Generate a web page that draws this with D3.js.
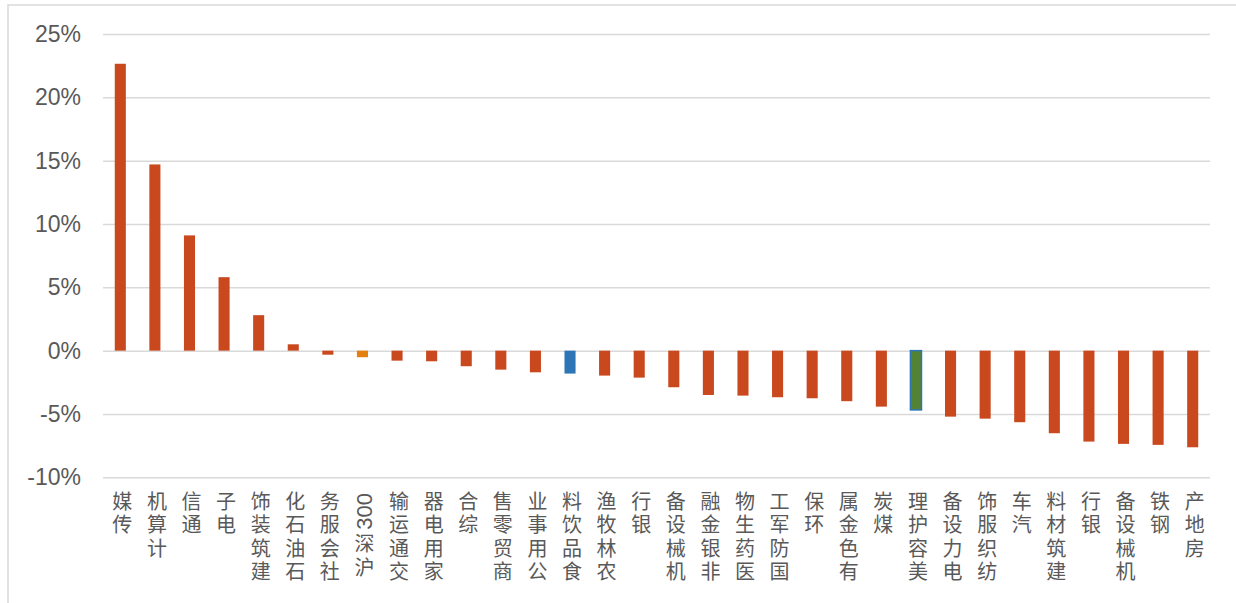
<!DOCTYPE html>
<html>
<head>
<meta charset="utf-8">
<script src="https://cdn.jsdelivr.net/npm/d3@7/dist/d3.min.js"></script>
<style>
  html, body { margin: 0; padding: 0; background: #fff; }
  svg { display: block; }
</style>
</head>
<body>
<svg id="chart" width="1236" height="603"></svg>
<script>
// Industry returns (%), sorted from best to worst
const categories = ["传媒","计算机","通信","电子","建筑装饰","石油石化","社会服务","沪深300","交通运输","家用电器",
  "综合","商贸零售","公用事业","食品饮料","农林牧渔","银行","机械设备","非银金融","医药生物","国防军工",
  "环保","有色金属","煤炭","美容护理","电力设备","纺织服饰","汽车","建筑材料","银行","机械设备","钢铁","房地产"];
const values = [22.65, 14.7, 9.1, 5.8, 2.8, 0.5, -0.32, -0.52, -0.79, -0.84,
  -1.23, -1.5, -1.71, -1.81, -1.97, -2.13, -2.89, -3.5, -3.55, -3.68,
  -3.76, -3.99, -4.42, -4.68, -5.21, -5.37, -5.65, -6.52, -7.18, -7.36, -7.44, -7.63];
const yTicks = [-10, -5, 0, 5, 10, 15, 20, 25];

// Highlighted bars: benchmark index and two featured sectors
const fillFor = i => {
  if (categories[i] === "沪深300") return "#E5800F";
  if (categories[i] === "食品饮料") return "#2E75B6";
  if (categories[i] === "美容护理") return "#548235";
  return "#C9481E";
};
const strokeFor = i => categories[i] === "美容护理" ? "#2E75B6" : "none";

const svg = d3.select("#chart");

// Outer frame
svg.append("rect")
  .attr("x", 8).attr("y", 5)
  .attr("width", 1300).attr("height", 700)
  .attr("fill", "none").attr("stroke", "#D9D9D9").attr("stroke-width", 1.5);

const x = d3.scaleBand()
  .domain(d3.range(categories.length))
  .range([103, 1210])
  .paddingInner(0.68)
  .paddingOuter(0.34);

const y = d3.scaleLinear().domain([-10, 25]).range([477.3, 34]);

// Gridlines and tick labels
const yAxis = d3.axisLeft(y)
  .tickValues(yTicks)
  .tickSize(-(1210 - 103))
  .tickPadding(22)
  .tickFormat(d => d + "%");

const gy = svg.append("g").attr("transform", "translate(103,0)").call(yAxis);
gy.select(".domain").remove();
gy.selectAll(".tick line").attr("stroke", "#D9D9D9").attr("stroke-width", 1.5);
gy.selectAll(".tick text")
  .attr("fill", "#595959")
  .attr("font-family", "'Liberation Sans', Arial, sans-serif")
  .attr("font-size", 23);

// Bars
svg.append("g").selectAll("rect")
  .data(values)
  .join("rect")
  .attr("x", (d, i) => x(i))
  .attr("width", x.bandwidth())
  .attr("y", d => y(Math.max(0, d)))
  .attr("height", d => Math.abs(y(d) - y(0)))
  .attr("fill", (d, i) => fillFor(i))
  .attr("stroke", (d, i) => strokeFor(i))
  .attr("stroke-width", 1.5);

// Category labels: read bottom-to-top, ending at the axis.
// Han characters stay upright (stacked vertical text); Latin/digit runs are turned 90° counter-clockwise.
const labelTop = 493;
const hanSize = 20, hanPitch = 23.5;
const digitSize = 22, digitAdvance = 0.556 * digitSize;
const isRun = s => /^[0-9A-Za-z]+$/.test(s);

const labelLayout = name => {
  const tokens = name.match(/[0-9A-Za-z]+|./g).reverse();
  // merge consecutive Han characters into one segment
  const segs = [];
  tokens.forEach(t => {
    const run = isRun(t);
    const last = segs[segs.length - 1];
    if (!run && last && !last.run) last.text += t;
    else segs.push({ text: t, run });
  });
  let cursor = labelTop;
  segs.forEach(s => {
    if (s.run) {
      const w = digitAdvance * s.text.length;
      s.pos = cursor + w / 2;
      cursor += w + 6;
    } else {
      s.pos = cursor - 2;
      cursor += hanPitch * s.text.length;
    }
  });
  return segs;
};

const labelGroups = svg.append("g").selectAll("g")
  .data(categories)
  .join("g")
  .attr("transform", (d, i) => `translate(${x(i) + x.bandwidth() / 2 + 2},0)`);

labelGroups.selectAll("text")
  .data(d => labelLayout(d))
  .join("text")
  .each(function (s) {
    const t = d3.select(this).attr("fill", "#595959");
    if (s.run) {
      t.attr("transform", `translate(0,${s.pos}) rotate(-90)`)
        .attr("text-anchor", "middle")
        .attr("dominant-baseline", "central")
        .attr("font-family", "'Liberation Sans', Arial, sans-serif")
        .attr("font-size", digitSize);
    } else {
      t.attr("x", 0).attr("y", s.pos)
        .style("writing-mode", "vertical-rl")
        .style("text-orientation", "upright")
        .attr("letter-spacing", hanPitch - hanSize)
        .attr("font-family", "'Noto Sans CJK SC', sans-serif")
        .attr("font-size", hanSize);
    }
    t.text(s.text);
  });
</script>
</body>
</html>
